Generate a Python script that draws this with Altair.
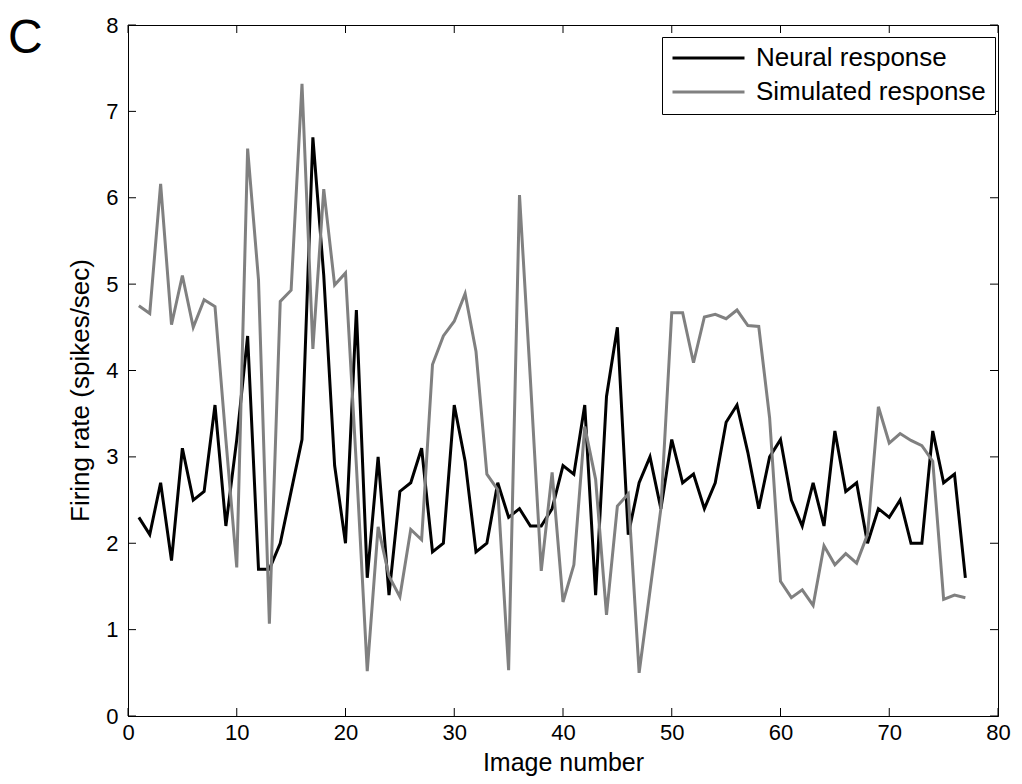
import altair as alt
import pandas as pd

# ---- data ----
image_number = list(range(1, 78))
neural = [2.3, 2.1, 2.7, 1.8, 3.1, 2.5, 2.6, 3.6, 2.2, 3.2,
          4.4, 1.7, 1.7, 2.0, 2.6, 3.2, 6.7, 5.1, 2.9, 2.0,
          4.7, 1.6, 3.0, 1.4, 2.6, 2.7, 3.1, 1.9, 2.0, 3.6,
          2.95, 1.9, 2.0, 2.7, 2.3, 2.4, 2.2, 2.2, 2.4, 2.9,
          2.8, 3.6, 1.4, 3.7, 4.5, 2.1, 2.7, 3.0, 2.4, 3.2,
          2.7, 2.8, 2.4, 2.7, 3.4, 3.6, 3.05, 2.4, 3.0, 3.2,
          2.5, 2.2, 2.7, 2.2, 3.3, 2.6, 2.7, 2.0, 2.4, 2.3,
          2.5, 2.0, 2.0, 3.3, 2.7, 2.8, 1.6]
simulated = [4.75, 4.66, 6.16, 4.53, 5.10, 4.50, 4.82, 4.74, 3.2, 1.72,
             6.57, 5.05, 1.07, 4.80, 4.93, 7.32, 4.25, 6.10, 4.99, 5.13,
             2.9, 0.52, 2.19, 1.62, 1.38, 2.16, 2.04, 4.07, 4.40, 4.57,
             4.89, 4.22, 2.80, 2.62, 0.53, 6.03, 3.9, 1.68, 2.82, 1.32,
             1.75, 3.35, 2.74, 1.17, 2.43, 2.57, 0.50, 1.45, 2.40, 4.67,
             4.67, 4.09, 4.62, 4.65, 4.60, 4.70, 4.52, 4.51, 3.45, 1.56,
             1.37, 1.46, 1.28, 1.97, 1.75, 1.88, 1.77, 2.1, 3.58, 3.16,
             3.27, 3.19, 3.13, 2.95, 1.35, 1.40, 1.37]
series_names = ["Neural response", "Simulated response"]
series_colors = ["#000000", "#808080"]
x_ticks = [0, 10, 20, 30, 40, 50, 60, 70, 80]
y_ticks = [0, 1, 2, 3, 4, 5, 6, 7, 8]
panel_label = ["C"]
x_title = "Image number"
y_title = "Firing rate (spikes/sec)"

W, H = 870, 691
TICK = 8
FONT = "Liberation Sans"

df = pd.DataFrame({
    "img": image_number * 2,
    "rate": neural + simulated,
    "series": [series_names[0]] * len(neural) + [series_names[1]] * len(simulated),
})
xdf = pd.DataFrame({"v": x_ticks})
ydf = pd.DataFrame({"v": y_ticks})

xscale = alt.Scale(domain=[0, 80], nice=False, zero=False)
yscale = alt.Scale(domain=[0, 8], nice=False)
x_axis = alt.Axis(values=x_ticks, title=x_title, labelPadding=6, titlePadding=7,
                  titleFontSize=25, labelFlush=False, format="d")
y_axis = alt.Axis(values=y_ticks, title=y_title, labelPadding=10, titleFontSize=26,
                  titleX=-35, titleY=365, labelFlush=False, format="d")

lines = alt.Chart(df).mark_line(strokeWidth=3).encode(
    x=alt.X("img:Q", scale=xscale, axis=x_axis),
    y=alt.Y("rate:Q", scale=yscale, axis=y_axis),
    color=alt.Color("series:N",
                    scale=alt.Scale(domain=series_names, range=series_colors),
                    legend=alt.Legend(title=None, orient="none", legendX=534, legendY=12,
                                      strokeColor="black", fillColor="white", padding=9,
                                      symbolType="stroke", symbolSize=5184,
                                      symbolStrokeWidth=3, labelFontSize=26, labelFont=FONT,
                                      labelColor="black", rowPadding=8, labelOffset=10,
                                      clipHeight=24, labelLimit=400, cornerRadius=0)),
)

left_ticks = alt.Chart(ydf).mark_rule(color="black", strokeWidth=1).encode(
    y=alt.Y("v:Q", scale=yscale, axis=y_axis), x=alt.value(0), x2=alt.value(TICK))
right_ticks = alt.Chart(ydf).mark_rule(color="black", strokeWidth=1).encode(
    y=alt.Y("v:Q", scale=yscale, axis=y_axis), x=alt.value(W - TICK), x2=alt.value(W))
bottom_ticks = alt.Chart(xdf).mark_rule(color="black", strokeWidth=1).encode(
    x=alt.X("v:Q", scale=xscale, axis=x_axis), y=alt.value(H - TICK), y2=alt.value(H))
top_ticks = alt.Chart(xdf).mark_rule(color="black", strokeWidth=1).encode(
    x=alt.X("v:Q", scale=xscale, axis=x_axis), y=alt.value(0), y2=alt.value(TICK))

label = alt.Chart(pd.DataFrame({"t": panel_label})).mark_text(
    fontSize=48, font=FONT, align="left", baseline="alphabetic", color="black"
).encode(text="t:N", x=alt.value(-120), y=alt.value(28))

chart = alt.layer(lines, left_ticks, right_ticks, bottom_ticks, top_ticks, label).properties(
    width=W, height=H,
    autosize=alt.AutoSizeParams(type="none"),
    padding={"left": 120, "top": 17, "right": 16, "bottom": 60},
    background="white",
).configure_view(
    stroke="black", strokeWidth=1
).configure_axis(
    labelFont=FONT, titleFont=FONT, labelFontSize=22,
    labelColor="black", titleColor="black", domainColor="black", domainWidth=1,
    ticks=False, grid=False, titleFontWeight="normal"
)

chart.save("out.html", embed_options={"renderer": "svg", "actions": False})
